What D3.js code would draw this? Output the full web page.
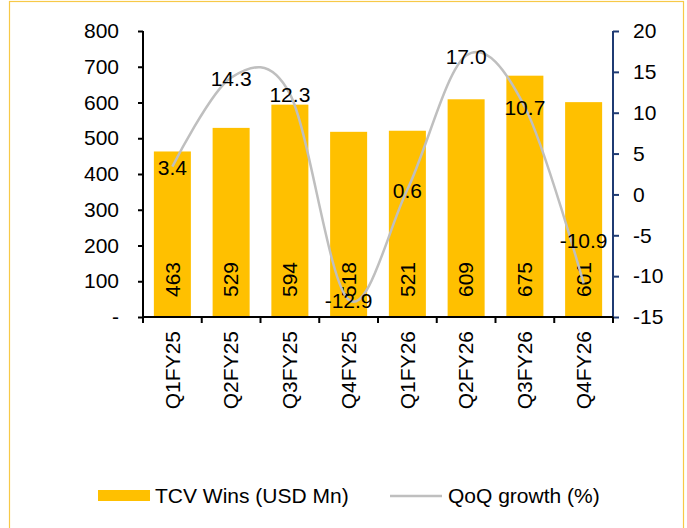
<!DOCTYPE html>
<meta charset="utf-8">
<style>
body { margin: 0; background: #fff; }
text { font-family: "Liberation Sans", Arial, sans-serif; font-size: 21px; fill: #000; }
</style>
<body>
<div id="container"></div>
<script src="https://cdn.jsdelivr.net/npm/d3@7"></script>
<script>

var quarters = ["Q1FY25", "Q2FY25", "Q3FY25", "Q4FY25", "Q1FY26", "Q2FY26", "Q3FY26", "Q4FY26"];
var tcvWins = [463, 529, 594, 518, 521, 609, 675, 601];
var qoqGrowth = [3.4, 14.3, 12.3, -12.9, 0.6, 17.0, 10.7, -10.9];
var leftTicks = [0, 100, 200, 300, 400, 500, 600, 700, 800];
var rightTicks = [-15, -10, -5, 0, 5, 10, 15, 20];

// plot area (window.top is reserved, so use plotTop etc.)
var W = 687, H = 528;
var plotLeft = 143, plotRight = 613, plotTop = 31, plotBottom = 317;

var svg = d3.select("#container").append("svg")
    .attr("width", W).attr("height", H);

// outer frame
svg.append("rect")
    .attr("x", 9.5).attr("y", 1.5)
    .attr("width", 674).attr("height", 540)
    .attr("fill", "none")
    .attr("stroke", "#F7C948")
    .attr("stroke-width", 1.2);

var x = d3.scaleBand().domain(quarters).range([plotLeft, plotRight]).paddingInner(0.37).paddingOuter(0.185);
var y = d3.scaleLinear().domain([0, 800]).range([plotBottom, plotTop]);
var y2 = d3.scaleLinear().domain([-15, 20]).range([plotBottom, plotTop]);

// bars
svg.append("g").selectAll("rect")
    .data(tcvWins)
  .enter().append("rect")
    .attr("x", function(d, i) { return x(quarters[i]); })
    .attr("y", function(d) { return y(d); })
    .attr("width", x.bandwidth())
    .attr("height", function(d) { return y(0) - y(d); })
    .attr("fill", "#FFC000");

// left axis
var yAxis = d3.axisLeft(y).tickValues(leftTicks).tickSize(5).tickPadding(19)
    .tickFormat(function(d) { return d === 0 ? "-" : String(d); });
var gl = svg.append("g").attr("transform", "translate(" + plotLeft + ",0)").call(yAxis);
gl.select(".domain").attr("stroke", "#000").attr("stroke-width", 2).attr("d", "M0," + plotTop + "V" + plotBottom);
gl.selectAll(".tick line").attr("stroke", "#000").attr("stroke-width", 2);
gl.selectAll("text").style("font-size", "21px").attr("fill", "#000");

// right axis (plain hyphen for negatives, as in the source)
var yAxis2 = d3.axisRight(y2).tickValues(rightTicks).tickSize(6).tickPadding(14)
    .tickFormat(function(d) { return String(d); });
var gr = svg.append("g").attr("transform", "translate(" + plotRight + ",0)").call(yAxis2);
gr.select(".domain").attr("stroke", "#1F3B73").attr("stroke-width", 2).attr("d", "M0," + plotTop + "V" + plotBottom);
gr.selectAll(".tick line").attr("stroke", "#1F3B73").attr("stroke-width", 2);
gr.selectAll("text").style("font-size", "21px").attr("fill", "#000");

// x axis
var gx = svg.append("g");
gx.append("line")
    .attr("x1", plotLeft).attr("x2", plotRight)
    .attr("y1", plotBottom).attr("y2", plotBottom)
    .attr("stroke", "#000").attr("stroke-width", 2);
gx.selectAll(".bt")
    .data(d3.range(quarters.length + 1))
  .enter().append("line")
    .attr("x1", function(i) { return plotLeft + i * x.step(); })
    .attr("x2", function(i) { return plotLeft + i * x.step(); })
    .attr("y1", plotBottom).attr("y2", plotBottom + 6)
    .attr("stroke", "#000").attr("stroke-width", 2);
gx.selectAll(".xl")
    .data(quarters)
  .enter().append("text")
    .attr("transform", function(d) {
      return "translate(" + (x(d) + x.bandwidth() / 2) + "," + (plotBottom + 14) + ") rotate(-90)";
    })
    .attr("text-anchor", "end")
    .attr("dy", "0.35em")
    .text(function(d) { return d; });

// bar value labels (inside base, rotated)
svg.append("g").selectAll("text")
    .data(tcvWins)
  .enter().append("text")
    .attr("transform", function(d, i) {
      return "translate(" + (x(quarters[i]) + x.bandwidth() / 2) + "," + (plotBottom - 20) + ") rotate(-90)";
    })
    .attr("text-anchor", "start")
    .attr("dy", "0.35em")
    .text(function(d) { return d; });

// growth line
var pts = qoqGrowth.map(function(v, i) { return [x(quarters[i]) + x.bandwidth() / 2, y2(v)]; });
svg.append("path")
    .attr("d", d3.line().curve(d3.curveCatmullRom.alpha(0))(pts))
    .attr("fill", "none")
    .attr("stroke", "#BFBFBF")
    .attr("stroke-width", 2.5);

// growth labels
svg.append("g").selectAll("text")
    .data(qoqGrowth)
  .enter().append("text")
    .attr("x", function(d, i) { return pts[i][0]; })
    .attr("y", function(d, i) { return pts[i][1] + (i === qoqGrowth.length - 1 ? -43 : 1); })
    .attr("text-anchor", "middle")
    .attr("dy", "0.35em")
    .text(function(d) { return d.toFixed(1); });

// legend
var lg = svg.append("g");
lg.append("rect").attr("x", 98).attr("y", 490).attr("width", 52).attr("height", 11).attr("fill", "#FFC000");
lg.append("text").attr("x", 155).attr("y", 496).attr("dy", "0.35em").text("TCV Wins (USD Mn)");
lg.append("line").attr("x1", 390).attr("x2", 442).attr("y1", 496).attr("y2", 496)
    .attr("stroke", "#BFBFBF").attr("stroke-width", 2.5);
lg.append("text").attr("x", 448).attr("y", 496).attr("dy", "0.35em").text("QoQ growth (%)");

</script>
</body>
